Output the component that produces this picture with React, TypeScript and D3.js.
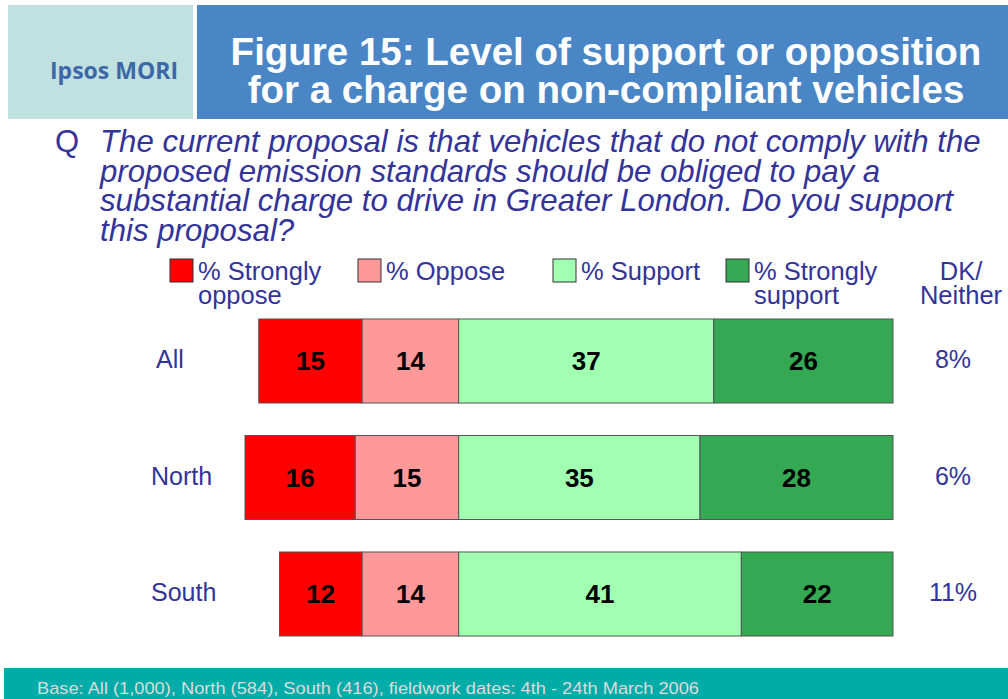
import * as d3 from "d3";
import React from "react";

// Survey data
const rows = ["All", "North", "South"];
const stronglyOppose = [15, 16, 12];
const oppose = [14, 15, 14];
const support = [37, 35, 41];
const stronglySupport = [26, 28, 22];
const dkNeither = ["8%", "6%", "11%"];

const legendItems = [
  { lines: ["% Strongly", "oppose"], color: "#ff0000" },
  { lines: ["% Oppose"], color: "#ff9999" },
  { lines: ["% Support"], color: "#a0ffb0" },
  { lines: ["% Strongly", "support"], color: "#34a853" },
];

const questionLines = [
  "The current proposal is that vehicles that do not comply with the",
  "proposed emission standards should be obliged to pay a",
  "substantial charge to drive in Greater London. Do you support",
  "this proposal?",
];

const W = 1008;
const H = 699;
const navy = "#333399";
const font = "'Liberation Sans', Arial, sans-serif";

const App: React.FC = () => {
  const x = d3.scaleLinear().domain([-31, 63]).range([245, 893]);
  const y = d3.scalePoint<string>().domain(rows).range([361, 594]);
  const barH = 84;

  const segments = rows.flatMap((row, i) => {
    const so = stronglyOppose[i];
    const op = oppose[i];
    const su = support[i];
    const ss = stronglySupport[i];
    return [
      { row, from: -(so + op), to: -op, value: so, color: legendItems[0].color },
      { row, from: -op, to: 0, value: op, color: legendItems[1].color },
      { row, from: 0, to: su, value: su, color: legendItems[2].color },
      { row, from: su, to: su + ss, value: ss, color: legendItems[3].color },
    ];
  });

  const legendX = [170, 358, 553, 726];

  return (
    <svg
      width={W}
      height={H}
      style={{ position: "fixed", left: 0, top: 0, background: "#ffffff" }}
      fontFamily={font}
    >
      {/* Header */}
      <rect x={8} y={5} width={185} height={114} fill="#c0e1e0" />
      <text
        x={114}
        y={79}
        textAnchor="middle"
        fill="#3c68a8"
        fontSize={23}
        fontWeight="bold"
        fontFamily="'Open Sans', sans-serif"
        textLength={128}
        lengthAdjust="spacingAndGlyphs"
      >
        Ipsos MORI
      </text>
      <rect x={197} y={5} width={W - 197} height={114} fill="#4a86c5" />
      <text x={606} y={65} textAnchor="middle" fill="#ffffff" fontSize={38.5} fontWeight="bold">
        Figure 15: Level of support or opposition
      </text>
      <text x={606} y={103} textAnchor="middle" fill="#ffffff" fontSize={38.5} fontWeight="bold">
        for a charge on non-compliant vehicles
      </text>

      {/* Question */}
      <text x={55} y={152} fill={navy} fontSize={31}>
        Q
      </text>
      {questionLines.map((line, i) => (
        <text key={i} x={100} y={152 + i * 29.6} fill={navy} fontSize={31.2} fontStyle="italic">
          {line}
        </text>
      ))}

      {/* Legend */}
      {legendItems.map((item, i) => (
        <g key={i}>
          <rect
            x={legendX[i]}
            y={259}
            width={23}
            height={23}
            fill={item.color}
            stroke="#333333"
            strokeWidth={1}
          />
          {item.lines.map((l, j) => (
            <text key={j} x={legendX[i] + 28} y={280 + j * 24} fill={navy} fontSize={25.5}>
              {l}
            </text>
          ))}
        </g>
      ))}
      <text x={961} y={280} textAnchor="middle" fill={navy} fontSize={25.5}>
        DK/
      </text>
      <text x={961} y={304} textAnchor="middle" fill={navy} fontSize={25.5}>
        Neither
      </text>

      {/* Bars */}
      {segments.map((s, i) => (
        <g key={i}>
          <rect
            x={x(s.from)}
            y={(y(s.row) ?? 0) - barH / 2}
            width={x(s.to) - x(s.from)}
            height={barH}
            fill={s.color}
            stroke="#555555"
            strokeWidth={1}
          />
          <text
            x={(x(s.from) + x(s.to)) / 2}
            y={y(s.row) ?? 0}
            dy="0.36em"
            textAnchor="middle"
            fill="#000000"
            fontSize={26}
            fontWeight="bold"
          >
            {s.value}
          </text>
        </g>
      ))}

      {/* Row labels */}
      {rows.map((r) => (
        <text key={r} x={r === "All" ? 156 : 151} y={(y(r) ?? 0) - 2} dy="0.36em" fill={navy} fontSize={25}>
          {r}
        </text>
      ))}

      {/* DK / Neither values */}
      {rows.map((r, i) => (
        <text
          key={r}
          x={953}
          y={(y(r) ?? 0) - 2}
          dy="0.36em"
          textAnchor="middle"
          fill={navy}
          fontSize={25}
        >
          {dkNeither[i]}
        </text>
      ))}

      {/* Footer */}
      <rect x={4} y={668} width={W - 4} height={H - 668} fill="#00aca8" />
      <text
        x={37}
        y={694}
        fill="#dcdcdc"
        fontSize={17}
        textLength={662}
        lengthAdjust="spacingAndGlyphs"
      >
        Base: All (1,000), North (584), South (416), fieldwork dates: 4th - 24th  March 2006
      </text>
    </svg>
  );
};

export default App;
